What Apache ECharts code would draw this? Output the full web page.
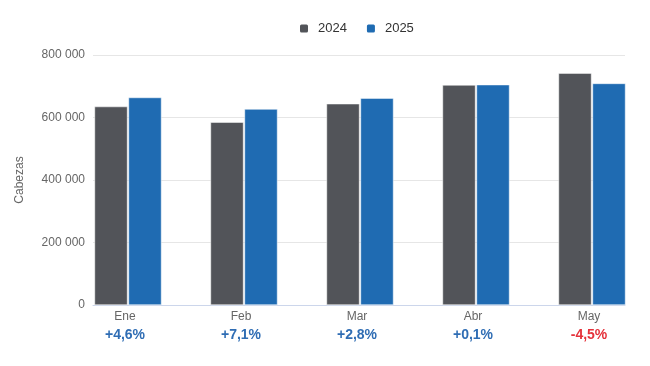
<!DOCTYPE html>
<html>
<head>
<meta charset="utf-8">
<script src="https://cdn.jsdelivr.net/npm/echarts@6/dist/echarts.min.js"></script>
<style>html,body{margin:0;padding:0;background:#fff}#c{width:650px;height:366px}</style>
</head>
<body>
<div id="c"></div>
<script>
const categories = ['Ene', 'Feb', 'Mar', 'Abr', 'May'];
const values2024 = [635000, 585000, 644000, 704000, 742000];
const values2025 = [664000, 627000, 662000, 705000, 709000];
const changes = ['+4,6%', '+7,1%', '+2,8%', '+0,1%', '-4,5%'];
const yTicks = [0, 200000, 400000, 600000, 800000];
const seriesNames = ['2024', '2025'];

const FONT = 'Liberation Sans, Arial, sans-serif';
const chart = echarts.init(document.getElementById('c'));
const fmt = v => v === 0 ? '0' : String(v).replace(/\B(?=(\d{3})+(?!\d))/g, ' ');

chart.setOption({
  animation: false,
  textStyle: { fontFamily: FONT },
  legend: {
    data: seriesNames,
    top: 17,
    left: 293,
    itemWidth: 10,
    itemHeight: 10,
    itemGap: 18,
    icon: 'roundRect',
    textStyle: { fontSize: 13, color: '#333', fontFamily: FONT, padding: [0, 0, 0, 4] }
  },
  grid: [
    { left: 70, right: -1, top: 55, bottom: 61 },
    { left: 93, right: 25, top: 55, bottom: 61 }
  ],
  xAxis: [
    {
      type: 'category', gridIndex: 0, data: categories,
      axisLine: { show: false }, axisTick: { show: false },
      axisLabel: {
        margin: 4,
        padding: [0, 6, 0, 0],
        formatter: (v, i) => '{c|' + v + '}\n' + (changes[i].startsWith('-') ? '{n|' : '{p|') + changes[i] + '}',
        rich: {
          c: { fontSize: 12, color: '#666', fontFamily: FONT, lineHeight: 16 },
          p: { fontSize: 14, fontWeight: 'bold', color: '#2f6db4', fontFamily: FONT, lineHeight: 20 },
          n: { fontSize: 14, fontWeight: 'bold', color: '#e5323b', fontFamily: FONT, lineHeight: 20 }
        }
      }
    },
    {
      type: 'category', gridIndex: 1, data: categories,
      axisLine: { show: true, lineStyle: { color: '#ccd6eb', width: 1 } },
      axisTick: { show: false }, axisLabel: { show: false }
    }
  ],
  yAxis: [
    {
      type: 'value', gridIndex: 0, min: 0, max: 800000, interval: 200000,
      axisLabel: { show: false }, splitLine: { show: false },
      axisLine: { show: false }, axisTick: { show: false }
    },
    {
      type: 'value', gridIndex: 1, min: 0, max: 800000, interval: 200000,
      name: 'Cabezas', nameLocation: 'middle', nameGap: 67, nameRotate: 90,
      nameTextStyle: { fontSize: 12, color: '#666', fontFamily: FONT },
      axisLabel: { fontSize: 12, color: '#666', margin: 8, fontFamily: FONT,
        formatter: v => yTicks.includes(v) ? fmt(v) : '' },
      splitLine: { lineStyle: { color: '#e6e6e6', width: 1 } },
      axisLine: { show: false }, axisTick: { show: false }
    }
  ],
  series: [
    {
      name: seriesNames[0], type: 'bar', xAxisIndex: 0, yAxisIndex: 0,
      data: values2024, barWidth: 33, barGap: '3%',
      itemStyle: { color: '#525459', borderColor: '#fff', borderWidth: 0.5 }
    },
    {
      name: seriesNames[1], type: 'bar', xAxisIndex: 0, yAxisIndex: 0,
      data: values2025, barWidth: 33, barGap: '3%',
      itemStyle: { color: '#1f6bb2', borderColor: '#fff', borderWidth: 0.5 }
    }
  ]
});
</script>
</body>
</html>
